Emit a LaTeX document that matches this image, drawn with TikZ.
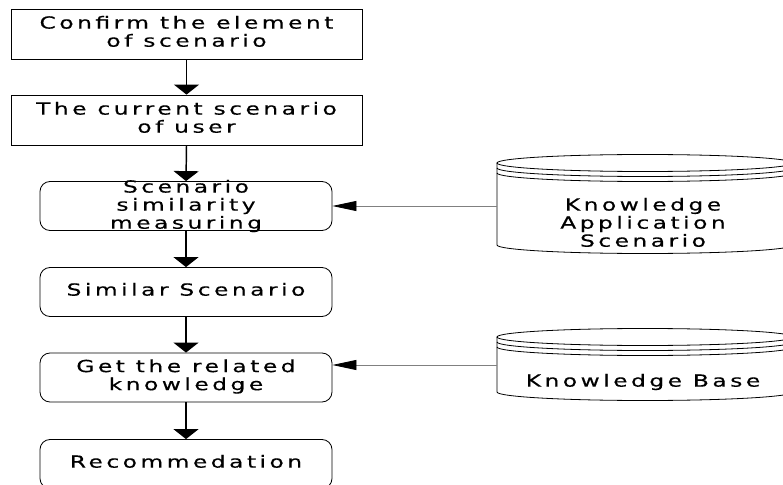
\documentclass[tikz,border=0pt]{standalone}
\usepackage{fontspec}
\setmainfont{DejaVu Sans}[LetterSpace=15, FakeBold=0.35]
\usetikzlibrary{arrows.meta}
\newcommand{\wtext}[1]{\scalebox{1.4}[1]{\begin{tabular}{@{}c@{}}#1\end{tabular}}}
\begin{document}
\begin{tikzpicture}[x=0.75pt,y=-0.75pt,
  font=\fontsize{12.5pt}{13.5pt}\selectfont,
  sqbox/.style={draw, line width=0.6pt, minimum width=263.25pt, minimum height=37.5pt, align=center, inner sep=0pt},
  rbox/.style={draw, line width=0.6pt, rounded corners=7.5pt, minimum width=219pt, minimum height=36.75pt, align=center, inner sep=0pt},
  txt/.style={align=center, inner sep=0pt},
  flow/.style={line width=1.1pt, -{Triangle[width=18.75pt,length=7.5pt]}},
  feed/.style={draw=gray, line width=0.6pt, -{Triangle[width=7.5pt,length=18pt,color=black]}},
  cyl/.style={line width=0.6pt}
]
\useasboundingbox (0,0) rectangle (783,485);

% flow boxes
\node[sqbox] (b1) at (186.5,34) {\wtext{Confirm the element\\of scenario}};
\node[sqbox] (b2) at (186.5,120) {\wtext{The current scenario\\of user}};
\node[rbox] (b3) at (186,206) {};
\node[txt] (b3t) at (186,207) {\wtext{Scenario\\similarity\\measuring}};
\node[rbox] (b4) at (186,292) {\wtext{Similar Scenario}};
\node[rbox] (b5) at (186,377.5) {\wtext{Get the related\\knowledge}};
\node[rbox] (b6) at (186,464) {\wtext{Recommedation}};

% vertical arrows
\draw[flow] (b1.south) -- (b2.north);
\draw[flow] (b2.south) -- (b3.north);
\draw[flow] (b3.south) -- (b4.north);
\draw[flow] (b4.south) -- (b5.north);
\draw[flow] (b5.south) -- (b6.north);

% cylinder 1: Knowledge Application Scenario
\draw[cyl] (645,163) ellipse [x radius=111pt, y radius=6.375pt];
\draw[cyl] (497,168) arc[start angle=180, end angle=360, x radius=111pt, y radius=6.375pt];
\draw[cyl] (497,173) arc[start angle=180, end angle=360, x radius=111pt, y radius=6.375pt];
\draw[cyl] (497,163) -- (497,245) arc[start angle=180, end angle=360, x radius=111pt, y radius=6.375pt] -- (793,163);
\node[txt] (kas) at (643,225) {\wtext{Knowledge\\Application\\Scenario}};
\coordinate (kasL) at (497,206);

% cylinder 2: Knowledge Base
\draw[cyl] (645,337) ellipse [x radius=111pt, y radius=6.375pt];
\draw[cyl] (497,342) arc[start angle=180, end angle=360, x radius=111pt, y radius=6.375pt];
\draw[cyl] (497,347) arc[start angle=180, end angle=360, x radius=111pt, y radius=6.375pt];
\draw[cyl] (497,337) -- (497,392) arc[start angle=180, end angle=360, x radius=111pt, y radius=6.375pt] -- (793,337);
\node[txt] (kb) at (643,383) {\wtext{Knowledge Base}};
\coordinate (kbL) at (497,365);

% feeds
\draw[feed] (kasL) -- (kasL -| b3.east);
\draw[feed] (kbL) -- (kbL -| b5.east);
\end{tikzpicture}
\end{document}
